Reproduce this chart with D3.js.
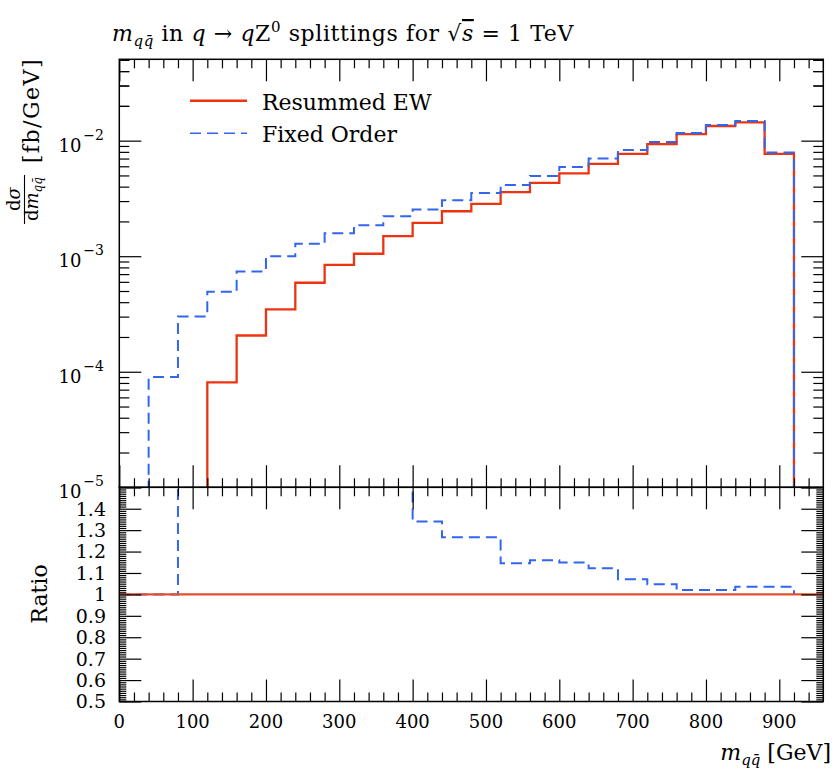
<!DOCTYPE html>
<html><head><meta charset="utf-8">
<script src="https://cdn.jsdelivr.net/npm/d3@7"></script>
<style>
body{margin:0;background:#fff}
text{font-family:"DejaVu Serif",serif;fill:#000}
</style>
</head><body>
<svg id="chart" width="835" height="770"></svg>
<script>
// ---------------- data ----------------
const binLow = [0,40,80,120,160,200,240,280,320,360,400,440,480,520,560,600,640,680,720,760,800,840,880];
const binWidth = 40;
const resummedEW = [0,0,0,8.1e-5,2.06e-4,3.46e-4,5.89e-4,8.43e-4,1.05e-3,1.49e-3,1.94e-3,2.45e-3,2.84e-3,3.58e-3,4.31e-3,5.22e-3,6.29e-3,7.68e-3,9.35e-3,1.14e-2,1.34e-2,1.44e-2,7.68e-3];
const fixedOrder = [0,9.0e-5,3.0e-4,4.92e-4,7.38e-4,1.0e-3,1.28e-3,1.58e-3,1.85e-3,2.22e-3,2.54e-3,3.05e-3,3.53e-3,4.14e-3,4.95e-3,5.93e-3,7.0e-3,8.32e-3,9.75e-3,1.165e-2,1.365e-2,1.48e-2,7.9e-3];
const ratioFixedOrder = [1,1,20,6.07,3.58,2.89,2.17,1.87,1.76,1.55,1.34,1.267,1.267,1.146,1.16,1.149,1.122,1.071,1.047,1.02,1.02,1.036,1.036];
const xMajorTicks = [0,100,200,300,400,500,600,700,800,900];
const mainDecades = [-5,-4,-3,-2];
const ratioTickLabels = ["0.5","0.6","0.7","0.8","0.9","1","1.1","1.2","1.3","1.4"];
const legendLabels = ["Resummed EW","Fixed Order"];

// ---------------- layout ----------------
const L = 119.3, R = 823.3, mainTop = 59.3, mainBottom = 487.3, ratioBottom = 701.5;
const RED = "#ee3311", BLUE = "#3366ee";
const svg = d3.select("#chart");

const x = d3.scaleLinear().domain([0, 960]).range([L, R]);
const y = d3.scaleLog().domain([1e-5, 0.0506]).range([mainBottom, mainTop]);
const yr = d3.scaleLinear().domain([0.5, 1.5]).range([ratioBottom, mainBottom]);

const defs = svg.append("defs");
defs.append("clipPath").attr("id","clipMain").append("rect")
  .attr("x",L).attr("y",mainTop).attr("width",R-L).attr("height",mainBottom-mainTop);
defs.append("clipPath").attr("id","clipRatio").append("rect")
  .attr("x",L).attr("y",mainBottom).attr("width",R-L).attr("height",ratioBottom-mainBottom);

function stepPoints(vals){
  const pts = binLow.map((b,i)=>[b, vals[i]]);
  const last = binLow.length-1;
  pts.push([binLow[last]+binWidth, vals[last]]);
  return pts;
}
const yMain = v => v > 0 ? y(v) : mainBottom + 400;
const lineMain = d3.line().x(d=>x(d[0])).y(d=>yMain(d[1])).curve(d3.curveStepAfter);
const lineRatio = d3.line().x(d=>x(d[0])).y(d=>yr(d[1])).curve(d3.curveStepAfter);

// ---------------- main panel curves ----------------
const gMain = svg.append("g").attr("clip-path","url(#clipMain)");
const ewPts = stepPoints(resummedEW); ewPts.push([920, 0]);
const foPts = stepPoints(fixedOrder); foPts.push([920, 0]);
gMain.append("path").attr("d", lineMain(ewPts)).attr("fill","none")
  .attr("stroke",RED).attr("stroke-width",2.3);
gMain.append("path").attr("d", lineMain(foPts)).attr("fill","none")
  .attr("stroke",BLUE).attr("stroke-width",2).attr("stroke-dasharray","11,6");

// ---------------- ratio panel curves ----------------
const gRatio = svg.append("g").attr("clip-path","url(#clipRatio)");
const rPts = stepPoints(ratioFixedOrder); rPts.push([920,1]);
gRatio.append("path").attr("d", lineRatio(rPts)).attr("fill","none")
  .attr("stroke",BLUE).attr("stroke-width",2).attr("stroke-dasharray","11,6");
gRatio.append("path").attr("d", lineRatio([[0,1],[960,1]])).attr("fill","none")
  .attr("stroke","#e2502e").attr("stroke-width",2.2);

// ---------------- ticks ----------------
const xMinor = d3.range(20, 960, 20).filter(v => v % 100 !== 0);
function xTicks(yPos, dir){ // dir -1 = upward ticks, +1 = downward
  [[xMajorTicks,22],[xMinor,9]].forEach(([vals,len])=>{
    const ax = (dir<0? d3.axisBottom(x).tickSize(-len) : d3.axisTop(x).tickSize(-len))
      .tickValues(vals).tickFormat("").tickSizeOuter(0);
    const g = svg.append("g").attr("transform",`translate(0,${yPos})`).call(ax);
    g.select(".domain").remove();
    g.selectAll("line").attr("stroke","#000").attr("stroke-width",1.2);
  });
}
xTicks(mainBottom, -1); xTicks(mainTop, 1); xTicks(mainBottom, 1); xTicks(ratioBottom, -1);

const logMajor = mainDecades.map(e=>Math.pow(10,e));
const logMinor = [];
mainDecades.forEach(e=>{ for(let k=2;k<=9;k++){ const v=k*Math.pow(10,e); if(v<=0.0506) logMinor.push(v);} });
logMinor.push(2e-2,3e-2,4e-2,5e-2);
function yTicks(scale, vals, len){
  const a1 = d3.axisLeft(scale).tickValues(vals).tickSize(-len).tickFormat("").tickSizeOuter(0);
  const a2 = d3.axisRight(scale).tickValues(vals).tickSize(-len).tickFormat("").tickSizeOuter(0);
  [[a1,L],[a2,R]].forEach(([a,xp])=>{
    const g = svg.append("g").attr("transform",`translate(${xp},0)`).call(a);
    g.select(".domain").remove();
    g.selectAll("line").attr("stroke","#000").attr("stroke-width",1.2);
  });
}
yTicks(y, logMajor, 22);
yTicks(y, logMinor, 10);
const ratioMajor = d3.range(0.5, 1.5001, 0.1).map(v=>+v.toFixed(2));
const ratioMinor = d3.range(0.5, 1.5001, 0.01).map(v=>+v.toFixed(3)).filter(v=>!ratioMajor.some(m=>Math.abs(m-v)<1e-6));
yTicks(yr, ratioMajor, 22);
yTicks(yr, ratioMinor, 7);

// frames
[[mainTop,mainBottom],[mainBottom,ratioBottom]].forEach(([t,b])=>{
  svg.append("rect").attr("x",L).attr("y",t).attr("width",R-L).attr("height",b-t)
    .attr("fill","none").attr("stroke","#000").attr("stroke-width",1.5);
});

// ---------------- tick labels ----------------
svg.selectAll(".xl").data(xMajorTicks).enter().append("text")
  .attr("x",d=>x(d)).attr("y",728).attr("text-anchor","middle")
  .attr("font-size",18).text(d=>d);

mainDecades.forEach(e=>{
  const t = svg.append("text").attr("x",104).attr("y",y(Math.pow(10,e))+11)
    .attr("text-anchor","end").attr("font-size",18);
  t.append("tspan").text("10");
  t.append("tspan").attr("font-size",14).attr("dy",-12).attr("dx",2).text("\u2212"+(-e));
});

ratioTickLabels.forEach(s=>{
  svg.append("text").attr("x",106).attr("y",yr(+s)).attr("dy","0.36em")
    .attr("text-anchor","end").attr("font-size",19).text(s);
});

// ---------------- title ----------------
const title = svg.append("text").attr("x",112).attr("y",41).attr("font-size",22).attr("letter-spacing",0.6);
title.append("tspan").attr("font-style","italic").text("m");
title.append("tspan").attr("font-style","italic").attr("font-size",15).attr("dy",5).text("qq\u0304");
title.append("tspan").attr("dy",-5).text(" in ");
title.append("tspan").attr("font-style","italic").text("q");
title.append("tspan").text(" \u2192 ");
title.append("tspan").attr("font-style","italic").text("q");
title.append("tspan").text("Z");
title.append("tspan").attr("font-size",15).attr("dy",-9).text("0");
title.append("tspan").attr("dy",9).text(" splittings for ");
title.append("tspan").text("\u221A");
title.append("tspan").attr("font-style","italic").style("text-decoration","overline").text("s");
title.append("tspan").text(" = 1 TeV");

// ---------------- legend ----------------
const legY = [100.7, 133.3];
svg.append("line").attr("x1",190).attr("x2",247).attr("y1",legY[0]).attr("y2",legY[0])
  .attr("stroke",RED).attr("stroke-width",2.5);
svg.append("line").attr("x1",190).attr("x2",247).attr("y1",legY[1]).attr("y2",legY[1])
  .attr("stroke",BLUE).attr("stroke-width",1.6).attr("stroke-dasharray","11,6");
legendLabels.forEach((s,i)=>{
  svg.append("text").attr("x",262).attr("y",legY[i]+9).attr("font-size",22).text(s);
});

// ---------------- axis titles ----------------
const yl = svg.append("g").attr("transform","rotate(-90)");
yl.append("text").attr("x",-58).attr("y",39).attr("text-anchor","end").attr("font-size",22)
  .attr("letter-spacing",1.5).text("[fb/GeV]");
const num = yl.append("text").attr("x",-199).attr("y",20).attr("text-anchor","middle").attr("font-size",18);
num.append("tspan").text("d");
num.append("tspan").attr("font-style","italic").text("\u03C3");
yl.append("line").attr("x1",-224).attr("x2",-175).attr("y1",24.5).attr("y2",24.5).attr("stroke","#000").attr("stroke-width",1.1);
const den = yl.append("text").attr("x",-199).attr("y",38).attr("text-anchor","middle").attr("font-size",18);
den.append("tspan").text("d");
den.append("tspan").attr("font-style","italic").text("m");
den.append("tspan").attr("font-style","italic").attr("font-size",12).attr("dy",4).text("qq\u0304");

yl.append("text").attr("x",-594).attr("y",47).attr("text-anchor","middle").attr("font-size",22).text("Ratio");

const xt = svg.append("text").attr("x",831).attr("y",760).attr("text-anchor","end").attr("font-size",22);
xt.append("tspan").attr("font-style","italic").text("m");
xt.append("tspan").attr("font-style","italic").attr("font-size",15).attr("dy",5).text("qq\u0304");
xt.append("tspan").attr("dy",-5).text(" [GeV]");
</script>
</body></html>
